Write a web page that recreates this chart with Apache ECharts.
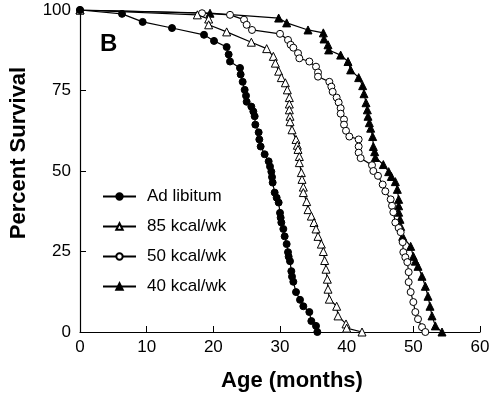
<!DOCTYPE html>
<html>
<head>
<meta charset="utf-8">
<script src="https://cdn.jsdelivr.net/npm/echarts@6/dist/echarts.min.js"></script>
<style>
  html, body { margin: 0; padding: 0; background: #fff; }
  #chart { width: 495px; height: 397px; }
</style>
</head>
<body>
<div id="chart"></div>
<script>
// age (months) / percent survival
const adLibitum = [[0,100],[6.3,98.8],[9.4,96.3],[13.8,94.4],[18.6,92.3],[20.1,90.4],[22.0,88.5],[22.3,86.2],[22.5,84],[24.0,82],[24.1,80],[24.4,77.7],[24.7,75.2],[24.9,73.4],[25.0,71.5],[25.7,70],[26.0,68.5],[26.2,67],[26.3,64.4],[26.8,62],[26.9,59.8],[27.1,57.6],[27.7,55.2],[28.3,53],[28.5,51.4],[28.7,49.8],[28.8,48.1],[28.9,46.4],[29.2,43.3],[29.5,41.7],[29.8,40.2],[30.0,37],[30.1,35.5],[30.2,34],[30.5,32],[30.7,29.7],[31.0,27.3],[31.2,24.8],[31.3,23.4],[31.5,22],[31.7,18.9],[31.8,17.2],[32.0,15.6],[32.4,12.4],[33.0,10],[33.5,8],[34.4,6.2],[34.7,3.4],[35.4,1.9],[35.6,0]];
const kcal85 = [[0,100],[17.6,98.5],[19.3,97.2],[19.3,95.4],[22.0,93.2],[25.7,90],[28.0,88],[29.0,85.6],[29.3,83.5],[29.8,81],[30.2,79],[30.8,77.4],[31.1,75.2],[31.4,72.8],[31.4,70.8],[31.4,69],[31.5,67],[31.5,65.3],[31.8,62.8],[32.4,59.8],[32.6,58],[32.7,56.7],[32.9,54.5],[32.9,52.6],[33.2,49.5],[33.3,47.4],[33.5,45],[33.5,43.3],[34.0,40.5],[34.2,38],[34.7,36],[35.1,34],[35.4,32],[35.7,29.7],[36.2,27.3],[36.5,25],[36.7,22.2],[36.9,19.5],[37.1,16.4],[37.2,13.3],[37.4,10.2],[38.5,8],[38.7,5],[39.9,2.5],[40.0,1.2],[42.3,0]];
const kcal50 = [[0,100],[18.3,99],[22.5,98.5],[24.6,97],[25.0,95.4],[25.8,93.8],[30.0,92.6],[31.2,90.7],[31.6,89.2],[32.0,88.3],[32.7,86.6],[32.9,85],[34.4,84],[35.4,82.4],[35.7,80.6],[35.7,79.3],[37.4,77.7],[37.7,76.2],[37.9,74.6],[38.5,72.8],[38.8,71.3],[39.1,69.5],[39.1,67.8],[39.6,66],[39.6,64.4],[39.9,62.5],[40.4,60.7],[41.8,59.8],[41.8,57.6],[41.8,55.7],[42.1,54],[43.8,51.8],[44.0,50],[44.7,48.5],[45.4,45.8],[45.8,43.7],[46.6,41.2],[46.8,39.2],[47.0,37.2],[47.3,34],[47.8,32.3],[48.1,31],[48.4,27.9],[48.5,24.8],[48.8,23.2],[49.1,21.7],[49.3,18.6],[49.3,15.5],[49.6,12.4],[50.0,9.3],[50.3,6.2],[50.7,4],[51.3,1.5],[51.8,0]];
const kcal40 = [[0,100],[19.5,99],[29.8,97.5],[31.0,96],[34.2,93.8],[36.5,92.9],[36.6,91],[37.2,89.2],[37.3,87.6],[39.1,86],[40.2,84],[40.6,81.4],[41.8,79],[42.4,76.5],[42.6,74],[42.9,71.2],[43.1,69],[43.2,67],[43.4,65],[43.6,63.3],[43.9,60.7],[44.0,57.6],[44.2,56],[44.3,54.2],[45.5,52],[46.3,49.8],[46.7,48.3],[47.3,46.7],[47.6,44.3],[47.8,41.2],[47.8,39.2],[47.8,37.2],[48.0,35],[48.1,32.8],[48.4,29.7],[49.6,26.6],[50.0,23.5],[50.3,22],[50.7,20.4],[51.3,17.3],[51.8,14.2],[52.2,11.1],[52.5,8],[52.8,5],[53.3,1.9],[54.3,0]];

const groupNames = ['Ad libitum', '85 kcal/wk', '50 kcal/wk', '40 kcal/wk'];

const font = 'Liberation Sans, Arial, Helvetica, sans-serif';
const chart = echarts.init(document.getElementById('chart'));

function makeSeries(name, data, symbol, size, filled, z) {
  return {
    name: name,
    type: 'line',
    data: data,
    symbol: symbol,
    symbolSize: size,
    showAllSymbol: true,
    z: z,
    lineStyle: { color: '#000', width: 1.2 },
    itemStyle: { color: filled ? '#000' : '#fff', borderColor: '#000', borderWidth: 1 },
    emphasis: { disabled: true },
    animation: false
  };
}

chart.setOption({
  animation: false,
  title: {
    text: 'B', left: 95, top: 27,
    textStyle: { fontFamily: font, fontSize: 24, fontWeight: 'bold', color: '#000' }
  },
  legend: {
    orient: 'vertical', left: 102, top: 188, padding: 0,
    itemWidth: 33, itemHeight: 8, itemGap: 13,
    data: groupNames,
    textStyle: { fontFamily: font, fontSize: 17, color: '#000', padding: [0, 0, 0, 6] }
  },
  grid: { left: 77, right: 15, top: 10, bottom: 64 },
  xAxis: {
    type: 'value', min: 0, max: 60, interval: 10,
    name: 'Age (months)', nameLocation: 'middle', nameGap: 38,
    nameTextStyle: { fontFamily: font, fontSize: 22, fontWeight: 'bold', color: '#000', padding: [0, 0, 0, 24] },
    axisLine: { lineStyle: { color: '#000', width: 1.2 } },
    axisTick: { inside: true, length: 6, lineStyle: { color: '#000' } },
    axisLabel: { fontFamily: font, fontSize: 17, color: '#000', margin: 7 },
    splitLine: { show: false }
  },
  yAxis: {
    type: 'value', min: 0, max: 100, interval: 25,
    name: 'Percent Survival', nameLocation: 'middle', nameGap: 50,
    nameTextStyle: { fontFamily: font, fontSize: 22, fontWeight: 'bold', color: '#000', padding: [0, 0, 0, 36] },
    axisLine: { show: true, lineStyle: { color: '#000', width: 1.2 } },
    axisTick: { show: true, inside: true, length: 6, lineStyle: { color: '#000' } },
    axisLabel: { fontFamily: font, fontSize: 17, color: '#000', margin: 9 },
    splitLine: { show: false }
  },
  series: [
    makeSeries(groupNames[0], adLibitum, 'circle', 7, true, 5),
    makeSeries(groupNames[1], kcal85, 'triangle', 8, false, 4),
    makeSeries(groupNames[2], kcal50, 'circle', 7, false, 3),
    makeSeries(groupNames[3], kcal40, 'triangle', 8, true, 2)
  ]
});
</script>
</body>
</html>
